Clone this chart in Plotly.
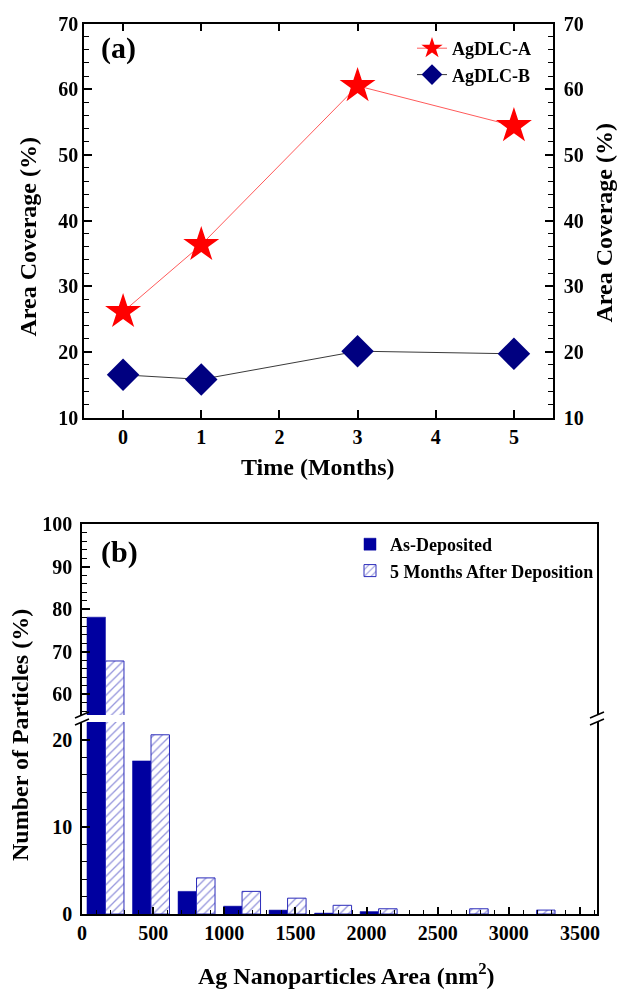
import plotly.graph_objects as go

# ---------------- data ----------------
months = [0, 1, 3, 5]
agdlc_a = [26.1, 36.3, 60.5, 54.4]
agdlc_b = [16.5, 15.8, 20.1, 19.7]

bin_solid = [165, 485, 805, 1125, 1445, 1765, 2085]
as_deposited = [78.1, 17.6, 2.6, 0.9, 0.45, 0.1, 0.28]
bin_hatched = [165, 485, 805, 1125, 1445, 1765, 2085, 2725, 3195]
after_5_months = [67.8, 20.6, 4.15, 2.6, 1.82, 1.0, 0.6, 0.6, 0.45]

x_ticks_a = [0, 1, 2, 3, 4, 5]
# ---------------------------------------

W, H = 617, 992
FONT = "Liberation Serif"
def X(px): return px / W
def Y(py): return 1 - py / H

BAR_W = 130
SOLID = "#0000a0"
HATCH = "#2c2cba"

fig = go.Figure()

# Panel (a)
fig.add_trace(go.Scatter(x=months, y=agdlc_a, mode="lines+markers", name="AgDLC-A",
                         line=dict(color="#ff5a5a", width=1),
                         marker=dict(symbol="star", size=27, color="#ff0000"),
                         xaxis="x", yaxis="y", legend="legend"))
fig.add_trace(go.Scatter(x=months, y=agdlc_b, mode="lines+markers", name="AgDLC-B",
                         line=dict(color="#3a3a3a", width=1),
                         marker=dict(symbol="diamond", size=25, color="#000080"),
                         xaxis="x", yaxis="y", legend="legend"))
# invisible copy so the right-hand axis is drawn
fig.add_trace(go.Scatter(x=months, y=agdlc_a, mode="markers", opacity=0,
                         showlegend=False, hoverinfo="skip", xaxis="x", yaxis="y4"))

# Panel (b) lower and upper segments
for xa, ya, show in (("x2", "y2", True), ("x3", "y3", False)):
    fig.add_trace(go.Bar(x=bin_solid, y=as_deposited, name="As-Deposited",
                         width=BAR_W, offset=-BAR_W,
                         marker=dict(color=SOLID, line=dict(color=SOLID, width=0.5)),
                         xaxis=xa, yaxis=ya, showlegend=show, legend="legend2"))
    fig.add_trace(go.Bar(x=bin_hatched, y=after_5_months, name="5 Months After Deposition",
                         width=BAR_W, offset=0,
                         marker=dict(color="white", line=dict(color=HATCH, width=1),
                                     pattern=dict(shape="/", fgcolor=HATCH, bgcolor="white",
                                                  size=6, solidity=0.22)),
                         xaxis=xa, yaxis=ya, showlegend=show, legend="legend2"))

tickfont = dict(family=FONT, size=20, color="black", weight="bold")
axis_common = dict(showgrid=False, zeroline=False, showline=True, linecolor="black",
                   linewidth=1.5, ticks="inside", ticklen=8, tickwidth=1.5,
                   tickcolor="black", tickfont=tickfont, automargin=False)
minor_y = dict(dtick=2, ticklen=5, tickwidth=1, ticks="inside", tickcolor="black")

fig.update_layout(
    width=W, height=H, margin=dict(l=0, r=0, t=0, b=0, autoexpand=False),
    paper_bgcolor="white", plot_bgcolor="white", barmode="overlay",
    xaxis=dict(domain=[X(84), X(553)], range=[-0.5, 5.5], tickvals=x_ticks_a,
               anchor="y", mirror="ticks", ticklabelstandoff=1, **axis_common),
    yaxis=dict(domain=[Y(417.5), Y(23.5)], range=[10, 70], dtick=10, anchor="x",
               ticklabelstandoff=0, minor=minor_y, **axis_common),
    yaxis4=dict(overlaying="y", side="right", range=[10, 70], dtick=10,
                anchor="x", ticklabelstandoff=5, minor=minor_y, **axis_common),
    xaxis2=dict(domain=[X(82), X(597)], range=[0, 3620], dtick=500, anchor="y2",
                ticklabelstandoff=0,
                minor=dict(dtick=100, ticklen=4, tickwidth=1, ticks="inside", tickcolor="black"),
                **{**axis_common, "ticklen": 7}),
    yaxis2=dict(domain=[Y(914), Y(722)], range=[0, 22.07], dtick=10, anchor="x2",
                mirror=True, ticklabelstandoff=4, minor=minor_y, **axis_common),
    xaxis3=dict(domain=[X(82), X(597)], range=[0, 3620], matches="x2", anchor="y3",
                side="top", showticklabels=False, showgrid=False, zeroline=False,
                showline=True, linecolor="black", linewidth=1.5, ticks=""),
    yaxis3=dict(domain=[Y(715), Y(524)], range=[55.1, 100], dtick=10, anchor="x3",
                mirror=True, ticklabelstandoff=4, minor=minor_y, **axis_common),
    legend=dict(x=X(412), y=Y(30), xanchor="left", yanchor="top",
                bgcolor="rgba(0,0,0,0)", borderwidth=0, tracegroupgap=0,
                font=dict(family=FONT, size=18, color="black", weight="bold")),
    legend2=dict(x=X(350), y=Y(526), xanchor="left", yanchor="top",
                 bgcolor="rgba(0,0,0,0)", borderwidth=0,
                 font=dict(family=FONT, size=18, color="black", weight="bold")),
)

def ann(text, px, py, size=24, angle=0):
    fig.add_annotation(text=text, x=X(px), y=Y(py), xref="paper", yref="paper",
                       showarrow=False, textangle=angle, xanchor="center", yanchor="middle",
                       font=dict(family=FONT, size=size, color="black", weight="bold"))

ann("Area Coverage (%)", 27.5, 237, angle=-90)
ann("Area Coverage (%)", 603, 223.5, angle=-90)
ann("Time (Months)", 318, 467)
ann("(a)", 118, 48, size=30)
ann("(b)", 119, 552, size=30)
ann("Number of Particles (%)", 20, 735, angle=-90)
ann("Ag Nanoparticles Area (nm<sup>2</sup>)", 346, 974)

# axis break marks
for ax in (82, 597):
    for by in (715, 722):
        fig.add_shape(type="line", xref="paper", yref="paper",
                      x0=X(ax - 7), y0=Y(by + 3), x1=X(ax + 7), y1=Y(by - 3),
                      line=dict(color="black", width=1.5))

fig.write_html("out.html", config={"displayModeBar": False},
               post_script="document.body.style.margin='0';")
